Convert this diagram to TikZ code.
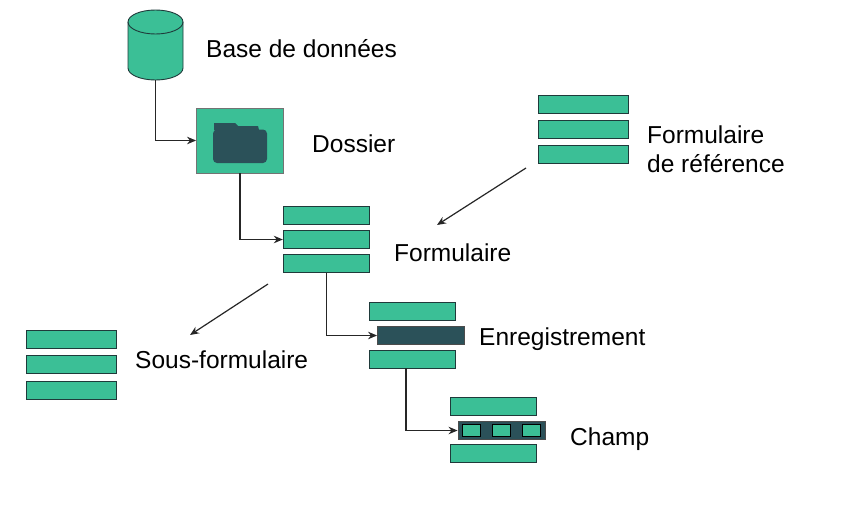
\documentclass[tikz,border=0pt]{standalone}
\usepackage{fontspec}
\setmainfont{Liberation Sans}
\usetikzlibrary{arrows.meta}
\definecolor{vert}{HTML}{3BBF96}
\definecolor{sombre}{HTML}{2B5159}
\definecolor{trait}{HTML}{1F3A3A}
\tikzset{
  x=1pt,y=-1pt,
  bar/.style={draw=trait,line width=0.9pt,fill=vert,inner sep=0pt,minimum width=#1,minimum height=18pt},
  bar/.default=86.5pt,
  darkbar/.style={draw=black!70,line width=0.9pt,fill=sombre,inner sep=0pt,minimum width=87pt,minimum height=18pt},
  cell/.style={draw=black,line width=0.9pt,fill=vert,inner sep=0pt,minimum width=18pt,minimum height=11.5pt},
  conn/.style={draw=black!85,line width=1.2pt,-{Stealth[length=9pt,width=7.5pt]}},
  label/.style={anchor=west,inner sep=0pt,font=\fontsize{24.5}{29.5}\selectfont,align=left,text=black}
}
\begin{document}
\begin{tikzpicture}
\useasboundingbox (0,0) rectangle (848,514);
\fill[white] (0,0) rectangle (848,514);
% base de donnees
\node[inner sep=0pt,minimum width=55pt,minimum height=70pt] (db) at (155.5,45) {};
\draw[draw=trait,line width=0.9pt,fill=vert] (128,22) -- (128,68) arc[start angle=180,end angle=0,x radius=27.5,y radius=12] -- (183,22) arc[start angle=0,end angle=-180,x radius=27.5,y radius=12] -- cycle;
\draw[draw=trait,line width=0.9pt] (128,22) arc[start angle=180,end angle=0,x radius=27.5,y radius=12];
\node[label] (tdb) at (206,49) {Base de données};
% dossier
\node[draw=black!55,line width=0.9pt,fill=vert,inner sep=0pt,minimum width=87pt,minimum height=65pt] (dos) at (240,140.5) {};
\fill[sombre] (214,123) -- (235,123) -- (238,126) -- (258,126) -- (259,130) -- (214,130) -- cycle;
\fill[sombre,rounded corners=4pt] (213,129.5) rectangle (267,163);
\node[label] (tdos) at (312,144) {Dossier};
% formulaire de reference
\node[bar=90.5pt] (r1) at (583.5,104) {};
\node[bar=90.5pt] (r2) at (583.5,129.5) {};
\node[bar=90.5pt] (r3) at (583.5,154.5) {};
\node[label] (tref) at (647,149) {Formulaire\\de référence};
% formulaire
\node[bar] (f1) at (326.5,215.5) {};
\node[bar] (f2) at (326.5,239.5) {};
\node[bar] (f3) at (326.5,263.5) {};
\node[label] (tf) at (394,253) {Formulaire};
% sous-formulaire
\node[bar=90.5pt] (s1) at (71.5,339.5) {};
\node[bar=90.5pt] (s2) at (71.5,364.5) {};
\node[bar=90.5pt] (s3) at (71.5,390) {};
\node[label] (ts) at (135,360) {Sous-formulaire};
% enregistrement
\node[bar] (e1) at (412.5,311) {};
\node[darkbar] (e2) at (421,335.5) {};
\node[bar] (e3) at (412.5,359) {};
\node[label] (te) at (479,339) {Enregistrement};
% champ
\node[bar] (c1) at (493.5,406) {};
\node[darkbar] (c2) at (501.5,430.5) {};
\node[bar] (c3) at (493.5,453.5) {};
\node[cell] (k1) at (471.5,430.5) {};
\node[cell] (k2) at (501,430.5) {};
\node[cell] (k3) at (531,430.5) {};
\node[label] (tc) at (570,439) {Champ};
% connecteurs
\draw[conn] (db.south) |- (dos.west);
\draw[conn] (dos.south) |- (f2.west);
\draw[conn] (f3.south) |- (e2.west);
\draw[conn] (e3.south -| 406,0) |- (c2.west);
\coordinate (a1) at (526,168);
\coordinate (a2) at (437,225);
\coordinate (b1) at (268,284);
\coordinate (b2) at (190,335);
\draw[conn] (a1) -- (a2);
\draw[conn] (b1) -- (b2);
\end{tikzpicture}
\end{document}
